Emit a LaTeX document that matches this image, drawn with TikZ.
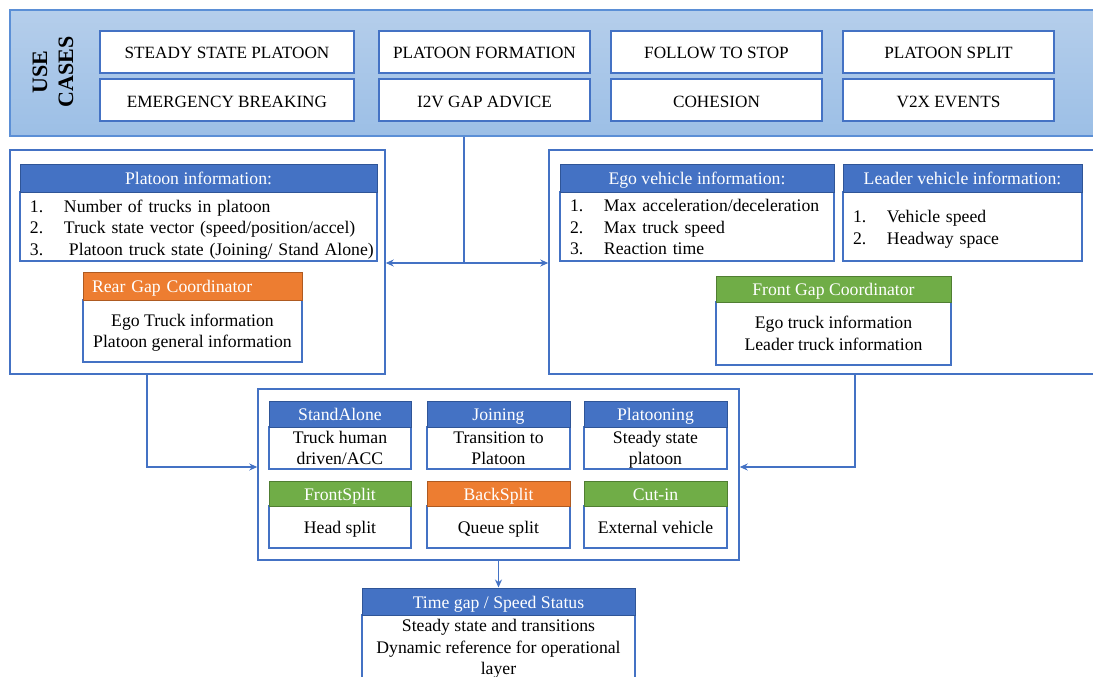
\documentclass[tikz,border=0pt]{standalone}
\usepackage{fontspec}
\setmainfont{Liberation Serif}
\usetikzlibrary{arrows.meta,calc}
\definecolor{hblue}{HTML}{4472C4}
\definecolor{hblueline}{HTML}{2F5597}
\definecolor{horange}{HTML}{ED7D31}
\definecolor{horangeline}{HTML}{AE5A21}
\definecolor{hgreen}{HTML}{70AD47}
\definecolor{hgreenline}{HTML}{507E32}
\definecolor{lineblue}{HTML}{4472C4}
\definecolor{bandtop}{HTML}{B5CEEB}
\definecolor{bandbot}{HTML}{9CBFE6}
\definecolor{bandline}{HTML}{5B8FD6}
\begin{document}
\begin{tikzpicture}[x=1pt,y=-1pt,
  font=\fontsize{17.7}{21.5}\selectfont,
  box/.style={draw=lineblue, line width=1.5pt, fill=white, inner sep=0pt},
  band/.style={draw=bandline, line width=1.5pt, top color=bandtop, bottom color=bandbot},
  ucase/.style={box, minimum height=42pt, text height=14pt, text depth=0pt, font=\fontsize{17.2}{21}\selectfont},
  hdr/.style={line width=1pt, inner sep=0pt, text=white, text height=13pt, text depth=0pt},
  hb/.style={hdr, draw=hblueline, fill=hblue},
  ho/.style={hdr, draw=horangeline, fill=horange},
  hg/.style={hdr, draw=hgreenline, fill=hgreen},
  listbody/.style={box, align=left, inner xsep=10pt},
  cbody/.style={box, align=center, text depth=0pt},
  conn/.style={draw=lineblue, line width=1.5pt},
  arr/.style={conn, -{Stealth[length=8pt,width=7pt]}}]
\clip (0,0) rectangle (1093,677);

% Use cases band
\node[band, minimum width=1090pt, minimum height=126pt] (uc) at (555,73) {};
\node[rotate=90, font=\fontsize{22}{26}\selectfont\bfseries, align=center] (uct) at (53,72) {USE\\CASES};
\node[ucase, minimum width=254pt] (u1) at (227,52) {STEADY STATE PLATOON};
\node[ucase, minimum width=254pt] (u2) at (227,100) {EMERGENCY BREAKING};
\node[ucase, minimum width=211pt] (u3) at (484.5,52) {PLATOON FORMATION};
\node[ucase, minimum width=211pt] (u4) at (484.5,100) {I2V GAP ADVICE};
\node[ucase, minimum width=211pt] (u5) at (716.5,52) {FOLLOW TO STOP};
\node[ucase, minimum width=211pt] (u6) at (716.5,100) {COHESION};
\node[ucase, minimum width=211pt] (u7) at (948.5,52) {PLATOON SPLIT};
\node[ucase, minimum width=211pt] (u8) at (948.5,100) {V2X EVENTS};

% Left panel
\node[box, minimum width=375pt, minimum height=224pt] (lp) at (197.5,262) {};
\node[listbody, text width=337pt, minimum height=69pt, text height=18pt] (pib) at (198.5,226.5)
  {\mbox{\makebox[34pt][l]{1.}Number of trucks in platoon}\\
   \mbox{\makebox[34pt][l]{2.}Truck state vector (speed/position/accel)}\\
   \mbox{\makebox[39pt][l]{3.}Platoon truck state (Joining/ Stand Alone)}};
\node[hb, minimum width=357pt, minimum height=28pt] (pih) at (198.5,178) {Platoon information:};
\node[cbody, minimum width=219pt, minimum height=62pt] (rgb) at (192.5,331)
  {Ego Truck information\\Platoon general information};
\node[ho, minimum width=219pt, minimum height=28pt, inner xsep=9pt, text width=201pt, align=left] (rgh) at (192.5,286) {Rear Gap Coordinator};

% Right panel
\node[box, minimum width=551pt, minimum height=224pt] (rp) at (824.5,262) {};
\node[listbody, text width=254pt, minimum height=69pt, text height=14pt] (egb) at (697,226.5)
  {\makebox[34pt][l]{1.}Max acceleration/deceleration\\
   \makebox[34pt][l]{2.}Max truck speed\\
   \makebox[34pt][l]{3.}Reaction time};
\node[hb, minimum width=274pt, minimum height=28pt] (egh) at (697,178) {Ego vehicle information:};
\node[listbody, text width=219pt, minimum height=69pt, text height=18pt] (ldb) at (962.5,226.5)
  {\makebox[34pt][l]{1.}Vehicle speed\\
   \makebox[34pt][l]{2.}Headway space};
\node[hb, minimum width=239pt, minimum height=28pt] (ldh) at (962.5,178) {Leader vehicle information:};
\node[cbody, minimum width=235pt, minimum height=63pt] (fgb) at (833.5,333.5)
  {Ego truck information\\Leader truck information};
\node[hg, minimum width=235pt, minimum height=26pt] (fgh) at (833.5,289) {Front Gap Coordinator};

% Middle state box
\node[box, minimum width=481pt, minimum height=171pt] (mid) at (498.5,474.5) {};
\node[cbody, minimum width=142pt, minimum height=42pt] (c1b) at (340,448) {Truck human\\driven/ACC};
\node[hb, minimum width=142pt, minimum height=26pt] (c1h) at (340,414) {StandAlone};
\node[cbody, minimum width=143pt, minimum height=42pt] (c2b) at (498.5,448) {Transition to\\Platoon};
\node[hb, minimum width=143pt, minimum height=26pt] (c2h) at (498.5,414) {Joining};
\node[cbody, minimum width=143pt, minimum height=42pt] (c3b) at (655.5,448) {Steady state\\platoon};
\node[hb, minimum width=143pt, minimum height=26pt] (c3h) at (655.5,414) {Platooning};
\node[cbody, minimum width=142pt, minimum height=42pt] (c4b) at (340,527) {Head split};
\node[hg, minimum width=142pt, minimum height=25pt] (c4h) at (340,493.5) {FrontSplit};
\node[cbody, minimum width=143pt, minimum height=42pt] (c5b) at (498.5,527) {Queue split};
\node[ho, minimum width=143pt, minimum height=25pt] (c5h) at (498.5,493.5) {BackSplit};
\node[cbody, minimum width=143pt, minimum height=42pt] (c6b) at (655.5,527) {External vehicle};
\node[hg, minimum width=143pt, minimum height=25pt] (c6h) at (655.5,493.5) {Cut-in};

% Time gap box
\node[cbody, minimum width=273pt, minimum height=64pt] (tgb) at (498.5,647)
  {Steady state and transitions\\Dynamic reference for operational\\layer};
\node[hb, minimum width=273pt, minimum height=27pt] (tgh) at (498.5,601.5) {Time gap / Speed Status};

% Connectors
\coordinate (j) at (464,263);
\coordinate (lj) at (147,467);
\coordinate (rj) at (855,467);
\draw[conn] (uc.south -| j) -- (j);
\draw[arr] (j) -- (lp.east |- j);
\draw[arr] (j) -- (rp.west |- j);
\draw[arr] (lp.south -| lj) -- (lj) -- (mid.west |- lj);
\draw[arr] (rp.south -| rj) -- (rj) -- (mid.east |- rj);
\draw[arr] (mid.south) -- (tgh.north);
\end{tikzpicture}
\end{document}
